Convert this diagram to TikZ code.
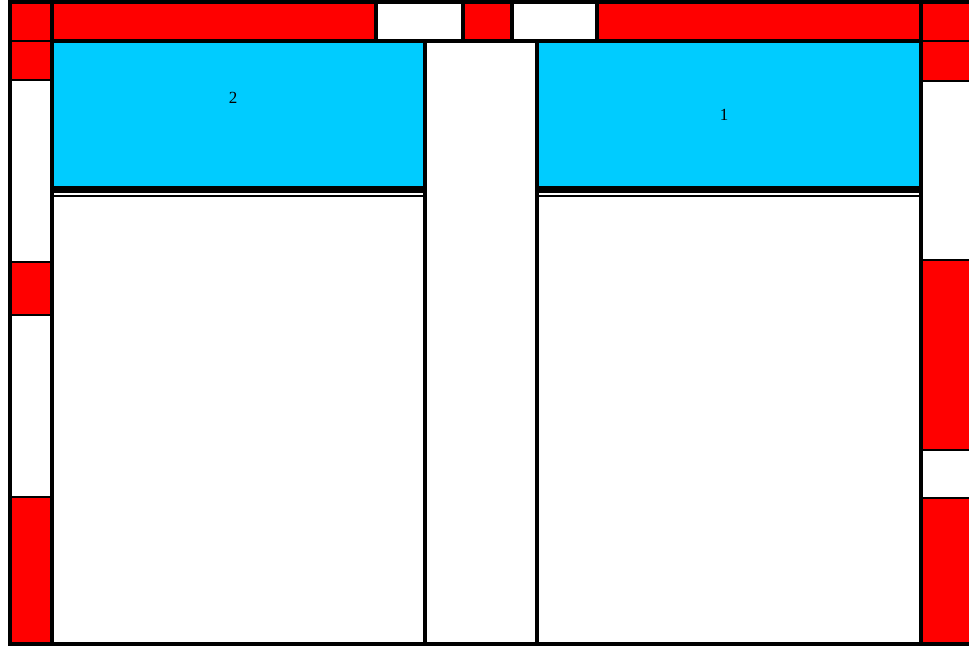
\documentclass[tikz,border=0pt]{standalone}
\usepackage{fontspec}
\setmainfont{Liberation Serif}
\usepackage{xcolor}
\usetikzlibrary{positioning}
\definecolor{wallred}{HTML}{FF0000}
\definecolor{water}{HTML}{00CCFF}
\tikzset{
  redcell/.style={fill=wallred, draw=black, line width=2.5pt},
  whitecell/.style={fill=white, draw=black, line width=2.5pt},
  barcell/.style={draw=black, line width=4pt},
  pane/.style={fill=white, draw=black, line width=4pt},
  pool/.style={fill=water},
  tag/.style={font=\fontsize{17}{17}\selectfont, inner sep=0pt},
}
\begin{document}
\begin{tikzpicture}[x=1pt, y=-1pt]
\clip (0,0) rectangle (969,647);
% left column
\foreach \ya/\yb/\c in {2/41/wallred, 41/80/wallred, 80/262/white, 262/315/wallred, 315/497/white, 497/644/wallred}
  \draw[redcell, fill=\c] (10,\ya) rectangle (52,\yb);
\draw[barcell] (10,2) rectangle (52,644);
% right column
\foreach \ya/\yb/\c in {2/41/wallred, 41/81/wallred, 81/260/white, 260/450/wallred, 450/498/white, 498/644/wallred}
  \draw[redcell, fill=\c] (921,\ya) rectangle (990,\yb);
\draw[barcell] (921,2) rectangle (990,644);
% top bar
\foreach \xa/\xb/\c in {52/376/wallred, 376/463/white, 463/512/wallred, 512/597/white, 597/921/wallred}
  \draw[barcell, fill=\c] (\xa,2) rectangle (\xb,41);
% panes
\draw[pane] (52,41) rectangle (425,644);
\draw[pane] (425,41) rectangle (537,644);
\draw[pane] (537,41) rectangle (921,644);
\fill[pool] (54,43) rectangle (423,187);
\fill[pool] (539,43) rectangle (919,187);
\foreach \xa/\xb in {52/425, 537/921} {
  \fill[black] (\xa,186) rectangle (\xb,193);
  \fill[black] (\xa,195) rectangle (\xb,197);
}
\draw[black, line width=4pt] (8,644) -- (990,644);
\node[tag] (lab2) at (233,98) {2};
\node[tag] (lab1) at (724,115) {1};
\end{tikzpicture}
\end{document}
